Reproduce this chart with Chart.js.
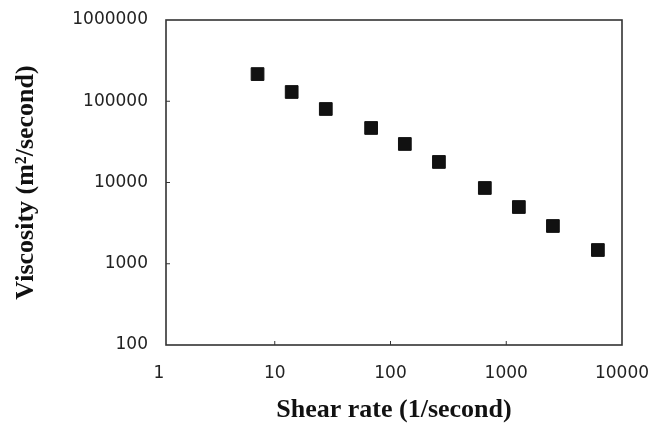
<!DOCTYPE html>
<html>
<head>
<meta charset="utf-8">
<script src="https://cdn.jsdelivr.net/npm/chart.js@4"></script>
<style>
  body { margin: 0; background: #fff; }
</style>
</head>
<body>
<canvas id="chart-viscosity" width="652" height="427"></canvas>
<script>
// shear rate (1/second) and viscosity
const shearRate = [7.1, 14, 27.6, 68, 133, 262, 653, 1285, 2530, 6190];
const viscosity = [216000, 130000, 80300, 46900, 29800, 17900, 8560, 4990, 2915, 1476];

const xTicks = [1, 10, 100, 1000, 10000];
const yTicks = [100, 1000, 10000, 100000, 1000000];

const points = shearRate.map((x, i) => ({ x: x, y: viscosity[i] }));

// box round the plot area + small inward ticks
const framePlugin = {
  id: "frame",
  beforeDatasetsDraw(chart) {
    const { ctx, chartArea } = chart;
    const { left, top, right, bottom } = chartArea;
    ctx.save();
    ctx.strokeStyle = "#333";
    ctx.lineWidth = 1.6;
    ctx.strokeRect(left, top, right - left, bottom - top);
    ctx.lineWidth = 1;
    ctx.beginPath();
    xTicks.forEach((v) => {
      const px = chart.scales.x.getPixelForValue(v);
      if (px > left + 2 && px < right - 2) {
        ctx.moveTo(px, bottom);
        ctx.lineTo(px, bottom - 4);
      }
    });
    yTicks.forEach((v) => {
      const py = chart.scales.y.getPixelForValue(v);
      if (py > top + 2 && py < bottom - 2) {
        ctx.moveTo(left, py);
        ctx.lineTo(left + 4, py);
      }
    });
    ctx.stroke();
    ctx.restore();
  },
};

const tickFont = { family: "DejaVu Sans", size: 17 };
const titleFont = { family: "Liberation Serif", size: 26, weight: "bold" };

new Chart(document.getElementById("chart-viscosity"), {
  type: "scatter",
  data: {
    datasets: [
      {
        label: "Viscosity",
        data: points,
        pointStyle: "rect",
        pointRadius: 9,
        borderWidth: 1,
        borderColor: "#111",
        backgroundColor: "#111",
      },
    ],
  },
  options: {
    responsive: false,
    animation: false,
    devicePixelRatio: 1,
    layout: { padding: { top: 20, right: 30, left: 0, bottom: 0 } },
    plugins: {
      legend: { display: false },
      tooltip: { enabled: false },
    },
    scales: {
      x: {
        type: "logarithmic",
        min: 1.149,
        max: 10000,
        grid: { display: false, drawTicks: false },
        border: { display: false },
        afterBuildTicks: (scale) => {
          scale.ticks = xTicks.map((v) => ({ value: v }));
        },
        afterFit: (scale) => {
          scale.height = 82;
          scale.paddingLeft = 0;
          scale.paddingRight = 0;
        },
        ticks: {
          color: "#222",
          font: tickFont,
          padding: 18,
          autoSkip: false,
          maxRotation: 0,
          callback: (value) => String(value),
        },
        title: {
          display: true,
          text: "Shear rate (1/second)",
          color: "#111",
          font: titleFont,
          padding: { top: 0, bottom: 1 },
        },
      },
      y: {
        type: "logarithmic",
        min: 100,
        max: 1000000,
        grid: { display: false, drawTicks: false },
        border: { display: false },
        afterBuildTicks: (scale) => {
          scale.ticks = yTicks.map((v) => ({ value: v }));
        },
        afterFit: (scale) => {
          scale.width = 166;
          scale.paddingTop = 0;
          scale.paddingBottom = 0;
        },
        ticks: {
          color: "#222",
          font: tickFont,
          padding: 18,
          autoSkip: false,
          callback: (value) => String(value),
        },
        title: {
          display: true,
          text: "Viscosity (m²/second)",
          color: "#111",
          font: titleFont,
          padding: { top: 11, bottom: 0 },
        },
      },
    },
  },
  plugins: [framePlugin],
});
</script>
</body>
</html>
